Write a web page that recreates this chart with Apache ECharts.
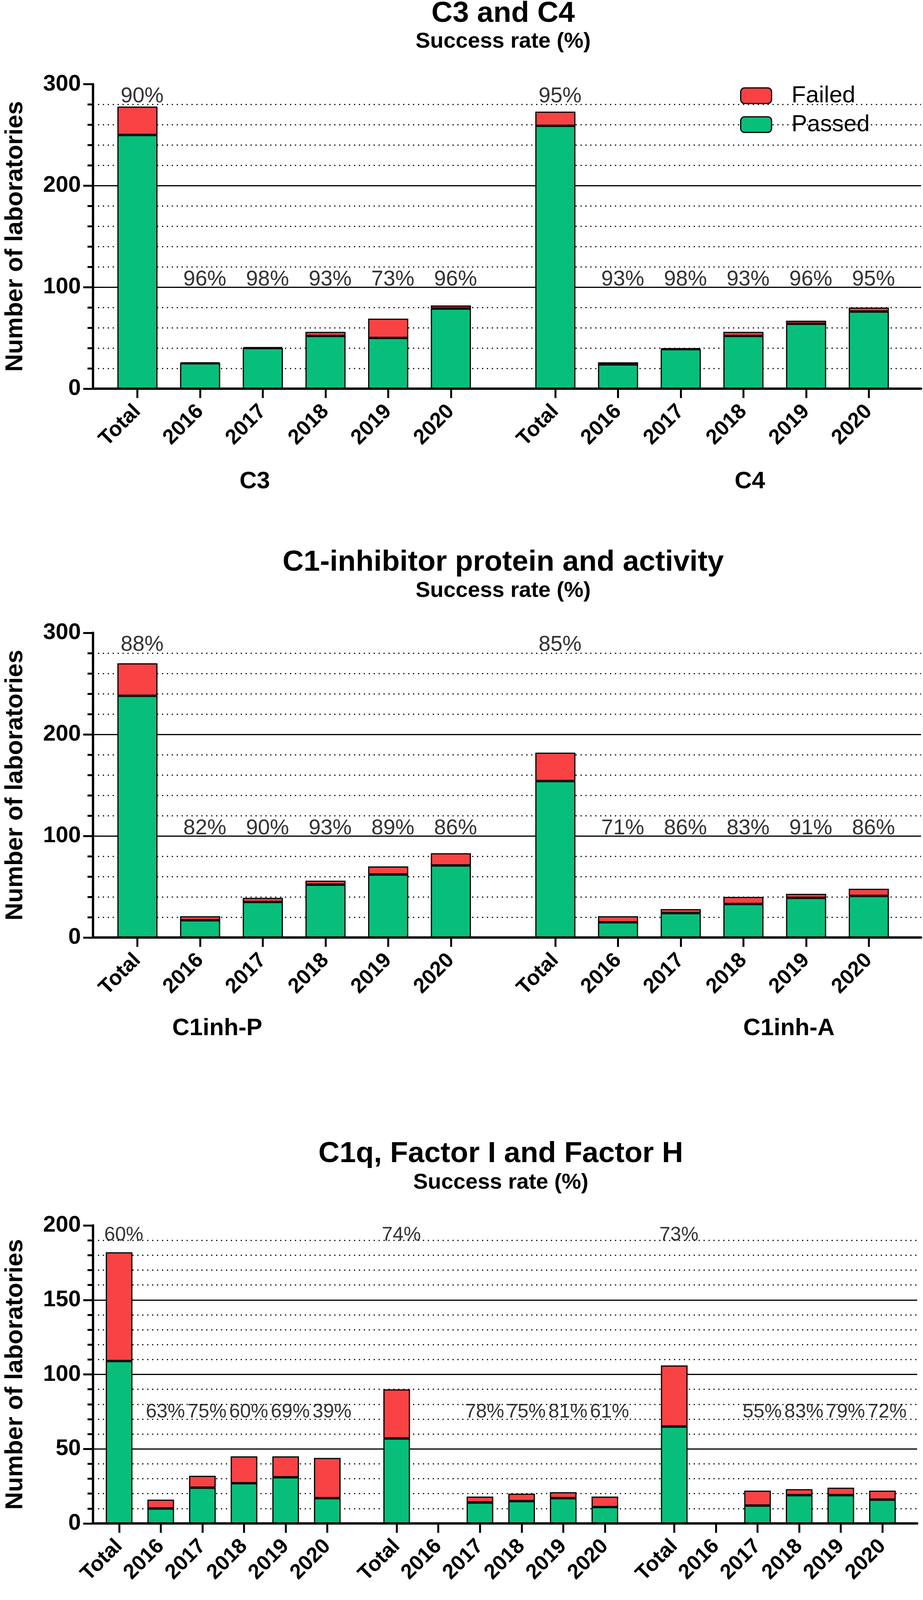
<!DOCTYPE html>
<html><head><meta charset="utf-8">
<script src="https://cdn.jsdelivr.net/npm/echarts@6/dist/echarts.min.js"></script>
<style>html,body{margin:0;padding:0;background:#fff}#c{width:2362px;height:4165px}</style>
</head><body><div id="c"></div>
<script>
// ---------- data ----------
const categories = ['Total','2016','2017','2018','2019','2020'];

const c3Passed = [250, 25, 40, 52, 50, 79];
const c3Failed = [28, 1, 1, 4, 19, 3];
const c3Rate   = ['90%','96%','98%','93%','73%','96%'];

const c4Passed = [259, 24, 39, 52, 64, 76];
const c4Failed = [14, 2, 1, 4, 3, 4];
const c4Rate   = ['95%','93%','98%','93%','96%','95%'];

const c1inhPPassed = [238, 17, 35, 52, 62, 71];
const c1inhPFailed = [32, 4, 4, 4, 8, 12];
const c1inhPRate   = ['88%','82%','90%','93%','89%','86%'];

const c1inhAPassed = [154, 15, 24, 33, 39, 41];
const c1inhAFailed = [28, 6, 4, 7, 4, 7];
const c1inhARate   = ['85%','71%','86%','83%','91%','86%'];

const c1qPassed = [109, 10, 24, 27, 31, 17];
const c1qFailed = [73, 6, 8, 18, 14, 27];
const c1qRate   = ['60%','63%','75%','60%','69%','39%'];

const fiPassed = [57, null, 14, 15, 17, 11];
const fiFailed = [33, null, 4, 5, 4, 7];
const fiRate   = ['74%','', '78%','75%','81%','61%'];

const fhPassed = [65, null, 12, 19, 19, 16];
const fhFailed = [41, null, 10, 4, 5, 6];
const fhRate   = ['73%','', '55%','83%','79%','72%'];

const panelTitles = ['C3 and C4', 'C1-inhibitor protein and activity', 'C1q, Factor I and Factor H'];
const subTitle = 'Success rate (%)';
const yAxisName = 'Number of laboratories';

// ---------- layout ----------
const FONT = "'Liberation Sans', Arial, Helvetica, sans-serif";
const GREEN = '#07BF7B', RED = '#F84244';

const panels = [
  { title: panelTitles[0], yMax: 300, yStep: 100, T: 215.6, B: 995, L: 218, R: 2357,
    hi: 288, lo: 107.5, titleTop: -2, subTop: 79, nameTop: 1203, pctFont: 55,
    groups: [
      { name: 'C3', lx: 652, passed: c3Passed, failed: c3Failed, rate: c3Rate },
      { name: 'C4', lx: 1919, passed: c4Passed, failed: c4Failed, rate: c4Rate }
    ] },
  { title: panelTitles[1], yMax: 300, yStep: 100, T: 1620, B: 2400, L: 218, R: 2357,
    hi: 288, lo: 107.5, titleTop: 1403, subTop: 1485, nameTop: 2603, pctFont: 55,
    groups: [
      { name: 'C1inh-P', lx: 556, passed: c1inhPPassed, failed: c1inhPFailed, rate: c1inhPRate },
      { name: 'C1inh-A', lx: 2019, passed: c1inhAPassed, failed: c1inhAFailed, rate: c1inhARate }
    ] },
  { title: panelTitles[2], yMax: 200, yStep: 50, T: 3137, B: 3900, L: 216, R: 2347,
    hi: 193.5, lo: 74.7, titleTop: 2917, subTop: 3000, nameTop: 4100, pctFont: 50,
    groups: [
      { name: 'C1q', lx: 617, passed: c1qPassed, failed: c1qFailed, rate: c1qRate },
      { name: 'FI', lx: 1360, passed: fiPassed, failed: fiFailed, rate: fiRate },
      { name: 'FH', lx: 1957, passed: fhPassed, failed: fhFailed, rate: fhRate }
    ] }
];

const grid = [], xAxis = [], yAxis = [], series = [], title = [];

panels.forEach((p, pi) => {
  const cx = (p.L + p.R) / 2;
  title.push({ text: p.title, left: cx, top: p.titleTop, textAlign: 'center', padding: 0,
    textStyle: { fontSize: 75, fontWeight: 'bold', color: '#000', fontFamily: FONT } });
  title.push({ text: subTitle, left: cx, top: p.subTop, textAlign: 'center', padding: 0,
    textStyle: { fontSize: 56, fontWeight: 'bold', color: '#000', fontFamily: FONT } });

  // background grid carrying the axes and grid lines
  const bg = grid.length;
  grid.push({ left: p.L, top: p.T, width: p.R - p.L, height: p.B - p.T });
  xAxis.push({ gridIndex: bg, type: 'value', min: 0, max: 1,
    axisLine: { show: true, lineStyle: { color: '#000', width: 6 } },
    axisTick: { show: false }, axisLabel: { show: false }, splitLine: { show: false } });
  yAxis.push({ gridIndex: bg, type: 'value', min: 0, max: p.yMax, interval: p.yStep,
    axisLine: { show: true, lineStyle: { color: '#000', width: 6 } },
    axisTick: { show: true, length: 25, lineStyle: { color: '#000', width: 5 } },
    minorTick: { show: true, splitNumber: 5, length: 14, lineStyle: { color: '#000', width: 5 } },
    splitLine: { show: true, showMinLine: false, showMaxLine: false, lineStyle: { color: '#000', width: 3 } },
    minorSplitLine: { show: true, lineStyle: { color: '#000', width: 3, type: [3, 9.6] } },
    axisLabel: { fontSize: 58, fontWeight: 'bold', color: '#000', margin: 31, fontFamily: FONT },
    name: yAxisName, nameLocation: 'middle', nameGap: 167, nameRotate: 90,
    nameTextStyle: { fontSize: 63, fontWeight: 'bold', color: '#000', fontFamily: FONT } });

  const g = p.groups.length;
  const s = (p.R - p.L) / (6 * g + (2 / 3) * (g - 1) + 2 / 3);
  p.groups.forEach((gr, k) => {
    const gi = grid.length;
    const left = p.L + s / 3 + k * (6 * s + 2 * s / 3);
    grid.push({ left: left, top: p.T, width: 6 * s, height: p.B - p.T });
    xAxis.push({ gridIndex: gi, type: 'category', data: categories,
      axisLine: { show: false },
      axisTick: { show: true, alignWithLabel: true, length: 24, lineStyle: { color: '#000', width: 5 } },
      axisLabel: { interval: 0, rotate: 45, fontSize: 54, fontWeight: 'bold', color: '#000', margin: 50, fontFamily: FONT },
      splitLine: { show: false } });
    yAxis.push({ gridIndex: gi, type: 'value', min: 0, max: p.yMax, show: false });
    const stackId = 's' + pi + '_' + k;
    series.push({ type: 'bar', name: 'Passed', xAxisIndex: gi, yAxisIndex: gi, stack: stackId,
      data: gr.passed, barWidth: '64%',
      itemStyle: { color: GREEN, borderColor: '#000', borderWidth: 3 } });
    series.push({ type: 'bar', name: 'Failed', xAxisIndex: gi, yAxisIndex: gi, stack: stackId,
      data: gr.failed, barWidth: '64%',
      itemStyle: { color: RED, borderColor: '#000', borderWidth: 3 } });
    series.push({ type: 'scatter', name: 'rate', xAxisIndex: gi, yAxisIndex: gi, silent: true,
      symbolSize: 1, itemStyle: { color: 'rgba(0,0,0,0)' }, z: 5,
      data: gr.rate.map((r, i) => r ? [i, i === 0 ? p.hi : p.lo] : null),
      label: { show: true, position: 'inside', offset: [12, 0],
        formatter: (d) => gr.rate[d.dataIndex],
        fontSize: p.pctFont, color: '#000', fontFamily: FONT } });
    title.push({ text: gr.name, left: gr.lx, top: p.nameTop, textAlign: 'center', padding: 0,
      textStyle: { fontSize: 61, fontWeight: 'bold', color: '#000', fontFamily: FONT } });
  });
});

const chart = echarts.init(document.getElementById('c'), null, { renderer: 'canvas', width: 2362, height: 4165 });
chart.setOption({
  backgroundColor: '#fff',
  animation: false,
  title: title,
  legend: { data: ['Failed', 'Passed'], orient: 'vertical', left: 1894, top: 215, padding: 0,
    itemWidth: 79, itemHeight: 40, itemGap: 14, selectedMode: false,
    itemStyle: { borderColor: '#000', borderWidth: 3 },
    textStyle: { fontSize: 60, color: '#000', fontFamily: FONT, padding: [0, 0, 0, 46] } },
  grid: grid, xAxis: xAxis, yAxis: yAxis, series: series
});
</script></body></html>
